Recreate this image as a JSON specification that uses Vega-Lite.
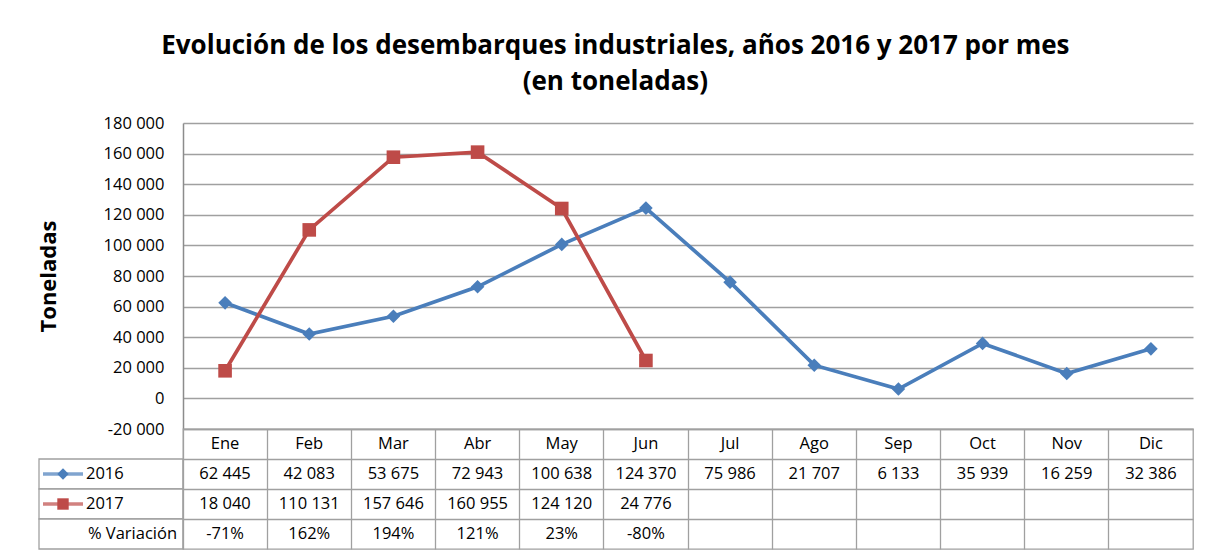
{
  "$schema": "https://vega.github.io/schema/vega-lite/v6.json",
  "padding": {"left": 37, "top": 33, "right": 0, "bottom": 0},
  "background": "white",
  "title": {
    "text": ["Evolución de los desembarques industriales, años 2016 y 2017 por mes", "(en toneladas)"],
    "font": "Open Sans", "fontSize": 26, "fontWeight": "bold", "color": "#000000",
    "lineHeight": 36, "anchor": "middle", "frame": "bounds", "offset": 20
  },
  "datasets": {
    "serie": [
      {"mes": "Ene", "serie": "2016", "ton": 62445},
      {"mes": "Feb", "serie": "2016", "ton": 42083},
      {"mes": "Mar", "serie": "2016", "ton": 53675},
      {"mes": "Abr", "serie": "2016", "ton": 72943},
      {"mes": "May", "serie": "2016", "ton": 100638},
      {"mes": "Jun", "serie": "2016", "ton": 124370},
      {"mes": "Jul", "serie": "2016", "ton": 75986},
      {"mes": "Ago", "serie": "2016", "ton": 21707},
      {"mes": "Sep", "serie": "2016", "ton": 6133},
      {"mes": "Oct", "serie": "2016", "ton": 35939},
      {"mes": "Nov", "serie": "2016", "ton": 16259},
      {"mes": "Dic", "serie": "2016", "ton": 32386},
      {"mes": "Ene", "serie": "2017", "ton": 18040},
      {"mes": "Feb", "serie": "2017", "ton": 110131},
      {"mes": "Mar", "serie": "2017", "ton": 157646},
      {"mes": "Abr", "serie": "2017", "ton": 160955},
      {"mes": "May", "serie": "2017", "ton": 124120},
      {"mes": "Jun", "serie": "2017", "ton": 24776}
    ],
    "meses": [
      {"mes": "Ene"}, {"mes": "Feb"}, {"mes": "Mar"}, {"mes": "Abr"}, {"mes": "May"}, {"mes": "Jun"},
      {"mes": "Jul"}, {"mes": "Ago"}, {"mes": "Sep"}, {"mes": "Oct"}, {"mes": "Nov"}, {"mes": "Dic"}
    ],
    "variacion": [
      {"mes": "Ene", "var": "-71%"},
      {"mes": "Feb", "var": "162%"},
      {"mes": "Mar", "var": "194%"},
      {"mes": "Abr", "var": "121%"},
      {"mes": "May", "var": "23%"},
      {"mes": "Jun", "var": "-80%"}
    ],
    "filas": [
      {"fila": "2016", "etiqueta": "2016"},
      {"fila": "2017", "etiqueta": "2017"},
      {"fila": "var", "etiqueta": "% Variación"}
    ]
  },
  "columns": 2,
  "spacing": 0,
  "bounds": "flush",
  "resolve": {"scale": {"x": "independent", "y": "independent", "color": "shared", "shape": "shared"}},
  "concat": [
    {
      "width": 144, "height": 306,
      "data": {"values": []},
      "mark": "point",
      "encoding": {}
    },
    {
      "width": 1010, "height": 306,
      "data": {"name": "serie"},
      "encoding": {
        "x": {"field": "mes", "type": "nominal", "axis": null,
              "scale": {"type": "point", "domain": ["Ene","Feb","Mar","Abr","May","Jun","Jul","Ago","Sep","Oct","Nov","Dic"], "padding": 0.5}},
        "y": {"field": "ton", "type": "quantitative",
              "scale": {"domain": [-20000, 180000], "nice": false, "zero": false},
              "axis": {"values": [-20000, 0, 20000, 40000, 60000, 80000, 100000, 120000, 140000, 160000, 180000],
                       "format": ",d", "title": "Toneladas", "titleFont": "Open Sans", "titleFontSize": 22,
                       "titleFontWeight": "bold", "titleColor": "#000000", "titlePadding": 43,
                       "labelFont": "Open Sans", "labelFontSize": 16.5, "labelColor": "#000000", "labelPadding": 19,
                       "ticks": false, "domain": true, "domainColor": "#8c8c8c", "domainWidth": 1.5,
                       "grid": true, "gridColor": "#a0a0a0", "gridWidth": 1.3}},
        "color": {"field": "serie", "type": "nominal", "legend": null,
                  "scale": {"domain": ["2016", "2017"], "range": ["#4a7ebb", "#be4b48"]}}
      },
      "layer": [
        {"mark": {"type": "line", "strokeWidth": 3.7}},
        {"mark": {"type": "point", "filled": true, "opacity": 1, "size": 185},
         "encoding": {"shape": {"field": "serie", "type": "nominal", "legend": null,
                                "scale": {"domain": ["2016", "2017"], "range": ["diamond", "square"]}}}}
      ]
    },
    {
      "width": 144, "height": 120,
      "data": {"name": "filas"},
      "layer": [
        {
          "mark": {"type": "rect", "fill": "white", "stroke": "#a0a0a0", "strokeWidth": 1.3},
          "encoding": {
            "y": {"field": "fila", "type": "nominal", "axis": null,
                  "scale": {"type": "band", "domain": ["h", "2016", "2017", "var"], "paddingInner": 0, "paddingOuter": 0}}
          }
        },
        {
          "transform": [{"filter": "datum.fila != 'var'"}],
          "mark": {"type": "tick", "orient": "horizontal", "thickness": 3.5},
          "encoding": {
            "x": {"datum": "sym", "axis": null, "scale": {"type": "band", "domain": ["sym", "lbl", "fin"], "paddingInner": 0, "paddingOuter": 0}},
            "y": {"field": "fila", "type": "nominal", "bandPosition": 0.5},
            "size": {"value": 40},
            "color": {"field": "fila", "type": "nominal", "legend": null}
          }
        },
        {
          "transform": [{"filter": "datum.fila != 'var'"}],
          "mark": {"type": "point", "filled": true, "opacity": 1, "size": 130},
          "encoding": {
            "x": {"datum": "sym", "bandPosition": 0.5},
            "y": {"field": "fila", "type": "nominal", "bandPosition": 0.5},
            "color": {"field": "fila", "type": "nominal", "legend": null},
            "shape": {"field": "fila", "type": "nominal", "legend": null}
          }
        },
        {
          "transform": [{"filter": "datum.fila != 'var'"}],
          "mark": {"type": "text", "align": "left", "baseline": "middle", "font": "Open Sans", "fontSize": 16.5, "color": "#000000", "dx": -1},
          "encoding": {
            "x": {"datum": "lbl", "bandPosition": 0},
            "y": {"field": "fila", "type": "nominal", "bandPosition": 0.5},
            "text": {"field": "etiqueta"}
          }
        },
        {
          "transform": [{"filter": "datum.fila == 'var'"}],
          "mark": {"type": "text", "align": "right", "baseline": "middle", "font": "Open Sans", "fontSize": 16.5, "color": "#000000", "dx": -6},
          "encoding": {
            "x": {"datum": "fin", "bandPosition": 1},
            "y": {"field": "fila", "type": "nominal", "bandPosition": 0.5},
            "text": {"field": "etiqueta"}
          }
        }
      ]
    },
    {
      "width": 1010, "height": 120,
      "view": {"stroke": "#a0a0a0", "strokeWidth": 1.3},
      "layer": [
        {
          "data": {"name": "meses"},
          "mark": {"type": "text", "baseline": "middle", "font": "Open Sans", "fontSize": 16.5, "color": "#000000"},
          "encoding": {
            "x": {"field": "mes", "type": "nominal", "bandPosition": 0.5,
                  "scale": {"type": "band", "domain": ["Ene","Feb","Mar","Abr","May","Jun","Jul","Ago","Sep","Oct","Nov","Dic"], "paddingInner": 0, "paddingOuter": 0},
                  "axis": {"grid": true, "bandPosition": 0, "labels": false, "ticks": false, "domain": false, "title": null, "gridColor": "#a0a0a0", "gridWidth": 1.3}},
            "y": {"datum": "h", "bandPosition": 0.5,
                  "scale": {"type": "band", "domain": ["h", "2016", "2017", "var"], "paddingInner": 0, "paddingOuter": 0},
                  "axis": {"grid": true, "bandPosition": 0, "labels": false, "ticks": false, "domain": false, "title": null, "gridColor": "#a0a0a0", "gridWidth": 1.3}},
            "text": {"field": "mes"}
          }
        },
        {
          "data": {"name": "serie"},
          "mark": {"type": "text", "baseline": "middle", "font": "Open Sans", "fontSize": 16.5, "color": "#000000"},
          "encoding": {
            "x": {"field": "mes", "type": "nominal", "bandPosition": 0.5},
            "y": {"field": "serie", "type": "nominal", "bandPosition": 0.5},
            "text": {"field": "ton", "type": "quantitative", "format": ",d"}
          }
        },
        {
          "data": {"name": "variacion"},
          "mark": {"type": "text", "baseline": "middle", "font": "Open Sans", "fontSize": 16.5, "color": "#000000"},
          "encoding": {
            "x": {"field": "mes", "type": "nominal", "bandPosition": 0.5},
            "y": {"datum": "var", "bandPosition": 0.5},
            "text": {"field": "var"}
          }
        }
      ]
    }
  ],
  "config": {
    "view": {"stroke": null},
    "locale": {"number": {"decimal": ",", "thousands": " ", "grouping": [3], "currency": ["", ""], "minus": "-"}}
  }
}
